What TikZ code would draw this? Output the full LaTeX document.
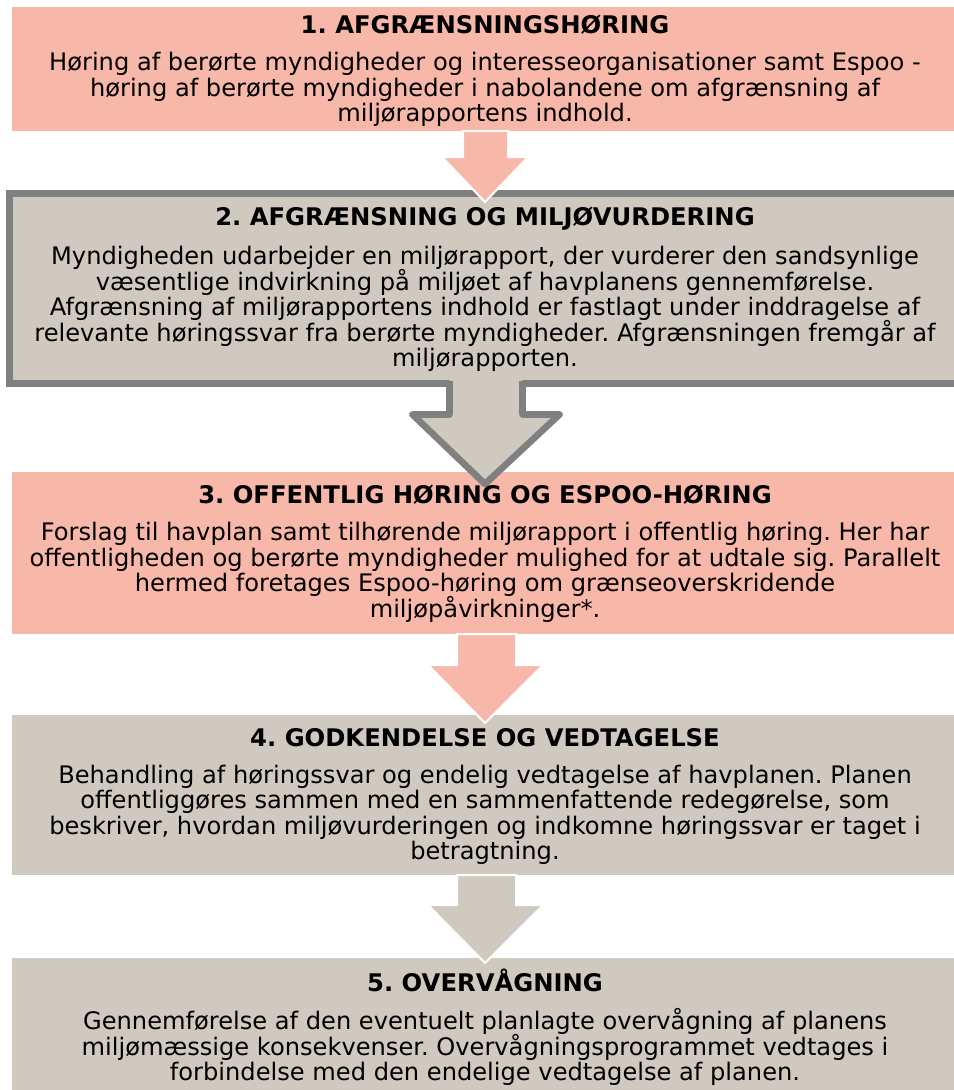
\documentclass[tikz,border=0pt]{standalone}
\usepackage{fontspec}
\setmainfont{DejaVu Sans}
\definecolor{salmon}{HTML}{F8B8A9}
\definecolor{beige}{HTML}{D0C9BF}
\definecolor{bordergray}{HTML}{808080}
\tikzset{
  bodytext/.style={anchor=base, inner sep=0pt, font=\fontsize{18.1}{21}\selectfont\frenchspacing, text=black},
  titletext/.style={anchor=base, inner sep=0pt, font=\fontsize{18.2}{21}\selectfont\bfseries\frenchspacing, text=black},
  salmonarrow/.style={fill=salmon, draw=white, line width=1.5},
  beigearrow/.style={fill=beige, draw=white, line width=1.5},
}
\begin{document}
\begin{tikzpicture}[x=0.75pt,y=-0.75pt]
\useasboundingbox (0,0) rectangle (954,1090);
\clip (0,0) rectangle (954,1090);
% box 1
\fill[salmon] (12,7) rectangle (970,131);
% box 2
\fill[beige] (9.5,193.5) rectangle (970,383.5);
\draw[bordergray, line width=5] (970,193.5) -- (9.5,193.5) -- (9.5,383.5) -- (970,383.5);
% arrow 1
\path[salmonarrow] (463,131) -- (463,157) -- (442,157) -- (485,202) -- (528,157) -- (508,157) -- (508,131) -- cycle;
% box 3
\fill[salmon] (12,472) rectangle (970,634);
% arrow 2
\fill[beige] (449.5,379) -- (449.5,414.5) -- (412.5,414.5) -- (485,484) -- (559.5,414.5) -- (522.5,414.5) -- (522.5,379) -- cycle;
\draw[bordergray, line width=5, line join=round] (449.5,381) -- (449.5,414.5) -- (412.5,414.5) -- (485,484) -- (559.5,414.5) -- (522.5,414.5) -- (522.5,381);
% box 4
\fill[beige] (12,715) rectangle (970,875);
% arrow 3
\path[salmonarrow] (457,634) -- (457,665) -- (428,665) -- (485,723) -- (543,665) -- (516,665) -- (516,634) -- cycle;
% box 5
\fill[beige] (12,958) rectangle (970,1095);
% arrow 4
\path[beigearrow] (457,875) -- (457,905) -- (428,905) -- (485,963) -- (543,905) -- (516,905) -- (516,875) -- cycle;

% texts box 1
\node[titletext] (t1) at (485,33) {1. AFGRÆNSNINGSHØRING};
\node[bodytext] (b1a) at (485,70) {Høring af berørte myndigheder og interesseorganisationer samt Espoo -};
\node[bodytext] (b1b) at (485,96) {høring af berørte myndigheder i nabolandene om afgrænsning af};
\node[bodytext] (b1c) at (485,121) {miljørapportens indhold.};
% box 2
\node[titletext] (t2) at (485,225) {2. AFGRÆNSNING OG MILJØVURDERING};
\node[bodytext] (b2a) at (485,264) {Myndigheden udarbejder en miljørapport, der vurderer den sandsynlige};
\node[bodytext] (b2b) at (485,290) {væsentlige indvirkning på miljøet af havplanens gennemførelse.};
\node[bodytext] (b2c) at (485,315) {Afgrænsning af miljørapportens indhold er fastlagt under inddragelse af};
\node[bodytext] (b2d) at (485,341) {relevante høringssvar fra berørte myndigheder. Afgrænsningen fremgår af};
\node[bodytext] (b2e) at (485,366) {miljørapporten.};
% box 3
\node[titletext] (t3) at (485,503) {3. OFFENTLIG HØRING OG ESPOO-HØRING};
\node[bodytext] (b3a) at (485,540) {Forslag til havplan samt tilhørende miljørapport i offentlig høring. Her har};
\node[bodytext] (b3b) at (485,566) {offentligheden og berørte myndigheder mulighed for at udtale sig. Parallelt};
\node[bodytext] (b3c) at (485,591) {hermed foretages Espoo-høring om grænseoverskridende};
\node[bodytext] (b3d) at (485,617) {miljøpåvirkninger*.};
% box 4
\node[titletext] (t4) at (485,746) {4. GODKENDELSE OG VEDTAGELSE};
\node[bodytext] (b4a) at (485,783) {Behandling af høringssvar og endelig vedtagelse af havplanen. Planen};
\node[bodytext] (b4b) at (485,808) {offentliggøres sammen med en sammenfattende redegørelse, som};
\node[bodytext] (b4c) at (485,834) {beskriver, hvordan miljøvurderingen og indkomne høringssvar er taget i};
\node[bodytext] (b4d) at (485,859) {betragtning.};
% box 5
\node[titletext] (t5) at (485,991) {5. OVERVÅGNING};
\node[bodytext] (b5a) at (485,1029) {Gennemførelse af den eventuelt planlagte overvågning af planens};
\node[bodytext] (b5b) at (485,1055) {miljømæssige konsekvenser. Overvågningsprogrammet vedtages i};
\node[bodytext] (b5c) at (485,1080) {forbindelse med den endelige vedtagelse af planen.};
\end{tikzpicture}
\end{document}
